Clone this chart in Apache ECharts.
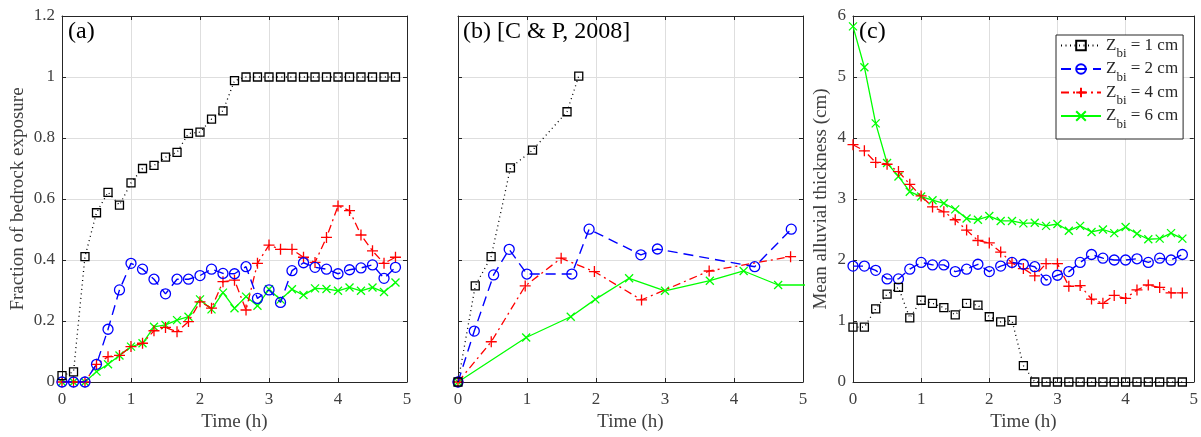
<!DOCTYPE html>
<html>
<head>
<meta charset="utf-8">
<script src="https://cdn.jsdelivr.net/npm/echarts@6/dist/echarts.min.js"></script>
<style>html,body{margin:0;padding:0;background:#fff;}#c{width:1201px;height:437px;}</style>
</head>
<body>
<div id="c"></div>
<script>
// ---- data ----
const timeA = [0,0.167,0.333,0.5,0.667,0.833,1,1.167,1.333,1.5,1.667,1.833,2,2.167,2.333,2.5,2.667,2.833,3,3.167,3.333,3.5,3.667,3.833,4,4.167,4.333,4.5,4.667,4.833];
const seriesNames = ['Zbi = 1 cm','Zbi = 2 cm','Zbi = 4 cm','Zbi = 6 cm'];
// (a) fraction of bedrock exposure
const aZ1 = [0.021,0.033,0.411,0.555,0.622,0.58,0.653,0.70,0.71,0.737,0.753,0.815,0.819,0.862,0.889,0.988,1,1,1,1,1,1,1,1,1,1,1,1,1,1];
const aZ2 = [0,0,0,0.058,0.173,0.302,0.389,0.37,0.337,0.289,0.337,0.337,0.349,0.37,0.356,0.355,0.378,0.274,0.302,0.261,0.365,0.391,0.376,0.37,0.355,0.368,0.374,0.384,0.34,0.376];
const aZ4 = [0,0,0,0.058,0.083,0.087,0.116,0.127,0.168,0.179,0.165,0.198,0.263,0.242,0.329,0.334,0.236,0.389,0.449,0.435,0.435,0.409,0.392,0.474,0.577,0.562,0.482,0.43,0.389,0.409];
const aZ6 = [0,0,0,0.034,0.058,0.087,0.116,0.127,0.181,0.187,0.203,0.214,0.271,0.238,0.293,0.242,0.28,0.25,0.304,0.27,0.304,0.285,0.307,0.305,0.299,0.31,0.299,0.31,0.295,0.326];
// (b) C & P, 2008
const bZ1t = [0,0.25,0.48,0.76,1.08,1.58,1.75];
const bZ1 = [0,0.315,0.411,0.702,0.76,0.886,1.003];
const bZ2t = [0,0.236,0.516,0.742,0.998,1.65,1.90,2.65,2.89,4.30,4.83];
const bZ2 = [0,0.167,0.351,0.435,0.354,0.354,0.501,0.417,0.436,0.378,0.501];
const bZ4t = [0,0.482,0.974,1.495,1.977,2.66,3.64,4.82];
const bZ4 = [0,0.132,0.315,0.406,0.362,0.269,0.364,0.411];
const bZ6t = [0,0.988,1.634,1.99,2.48,3.0,3.65,4.14,4.64,5.3];
const bZ6 = [0,0.146,0.214,0.271,0.34,0.299,0.332,0.364,0.318,0.318];
// (c) mean alluvial thickness (cm)
const cZ1 = [0.90,0.90,1.2,1.44,1.55,1.05,1.34,1.29,1.22,1.10,1.29,1.26,1.07,0.985,1.01,0.27,0,0,0,0,0,0,0,0,0,0,0,0,0,0];
const cZ2 = [1.90,1.90,1.83,1.69,1.69,1.85,1.96,1.92,1.92,1.81,1.85,1.93,1.81,1.90,1.96,1.93,1.89,1.67,1.75,1.81,1.96,2.09,2.03,2.0,2.0,2.02,1.96,2.03,2.0,2.09];
const cZ4 = [3.89,3.79,3.60,3.57,3.45,3.24,3.05,2.87,2.79,2.66,2.49,2.32,2.28,2.13,1.95,1.86,1.74,1.94,1.94,1.57,1.58,1.36,1.29,1.42,1.37,1.51,1.59,1.55,1.46,1.46];
const cZ6 = [5.83,5.16,4.24,3.59,3.37,3.12,3.04,2.98,2.93,2.83,2.68,2.66,2.72,2.64,2.64,2.60,2.61,2.56,2.59,2.48,2.56,2.46,2.50,2.44,2.54,2.43,2.34,2.35,2.44,2.35];
const xTicksMax = 5;

// ---- styles ----
const FONT = '"Liberation Serif", "Times New Roman", serif';
const styles = [
  {color:'#000000', symbol:'path://M0,0L10,0L10,10L0,10Z', size:8, type:[1,3.5], width:1.3},
  {color:'#0000ff', symbol:'circle', size:10, type:[10,6], width:1.4},
  {color:'#ff0000', symbol:'path://M5,0L5,10M0,5L10,5', size:11, type:[8,4,2,4], width:1.3},
  {color:'#00ff00', symbol:'path://M0,0L10,10M10,0L0,10', size:8, type:'solid', width:1.3}
];
function zip(t, v){ return t.map((x,i)=>[x, v[i]]); }
function mk(k, xi, t, v){
  const s = styles[k];
  return {
    name: seriesNames[k], type:'line', xAxisIndex:xi, yAxisIndex:xi,
    data: zip(t, v), symbol: s.symbol, symbolSize: s.size, showAllSymbol:true,
    clip:true, animation:false, z: 3 + (3-k),
    itemStyle:{color:'transparent', borderColor:s.color, borderWidth:1.3},
    lineStyle:{color:s.color, width:s.width, type:s.type},
    emphasis:{disabled:true}
  };
}
const grids = [
  {left:62, top:16, width:345, height:366},
  {left:458, top:16, width:345, height:366},
  {left:853, top:16, width:345, height:366}
];
const axisColor = '#262626';
const gridColor = '#dedede';
function xBottom(i){
  return {type:'value', gridIndex:i, min:0, max:xTicksMax, interval:1, position:'bottom',
    axisLine:{show:true, onZero:false, lineStyle:{color:axisColor, width:1}},
    axisTick:{show:true, inside:true, length:4, lineStyle:{color:axisColor}},
    axisLabel:{fontFamily:FONT, fontSize:17, color:'#404040', margin:9},
    splitLine:{show:true, lineStyle:{color:gridColor, width:1}},
    name:'Time (h)', nameLocation:'middle', nameGap:31,
    nameTextStyle:{fontFamily:FONT, fontSize:19, color:'#404040'}};
}
function xTop(i){
  return {type:'value', gridIndex:i, min:0, max:xTicksMax, interval:1, position:'top',
    axisLine:{show:true, onZero:false, lineStyle:{color:axisColor, width:1}},
    axisTick:{show:true, inside:true, length:4, lineStyle:{color:axisColor}},
    axisLabel:{show:false}, splitLine:{show:false}};
}
function yLeft(i, max, interval, showLabels, name, gap){
  return {type:'value', gridIndex:i, min:0, max:max, interval:interval, position:'left',
    axisLine:{show:true, onZero:false, lineStyle:{color:axisColor, width:1}},
    axisTick:{show:true, inside:true, length:4, lineStyle:{color:axisColor}},
    axisLabel:{show:showLabels, fontFamily:FONT, fontSize:17, color:'#404040', margin:7},
    splitLine:{show:true, lineStyle:{color:gridColor, width:1}},
    name:name, nameLocation:'middle', nameGap:gap,
    nameTextStyle:{fontFamily:FONT, fontSize:19, color:'#404040'}};
}
function yRight(i, max, interval){
  return {type:'value', gridIndex:i, min:0, max:max, interval:interval, position:'right',
    axisLine:{show:true, onZero:false, lineStyle:{color:axisColor, width:1}},
    axisTick:{show:true, inside:true, length:4, lineStyle:{color:axisColor}},
    axisLabel:{show:false}, splitLine:{show:false}};
}

const option = {
  backgroundColor:'#ffffff',
  animation:false,
  grid: grids,
  xAxis: [xBottom(0), xBottom(1), xBottom(2), xTop(0), xTop(1), xTop(2)],
  yAxis: [
    yLeft(0, 1.2, 0.2, true, 'Fraction of bedrock exposure', 34),
    yLeft(1, 1.2, 0.2, false, '', 30),
    yLeft(2, 6, 1, true, 'Mean alluvial thickness (cm)', 22),
    yRight(0, 1.2, 0.2), yRight(1, 1.2, 0.2), yRight(2, 6, 1)
  ],
  legend: {
    data: seriesNames, orient:'vertical', left:1056, top:35,
    backgroundColor:'#ffffff', borderColor:'#262626', borderWidth:1,
    padding:[2,5,8,4], itemGap:0, itemWidth:40, itemHeight:12,
    selectedMode:false,
    formatter: function(name){
      const rest = name.replace('Zbi','');
      return '{z|Z}{s|bi}{z|' + rest + '}';
    },
    textStyle:{
      fontFamily:FONT, color:'#262626',
      rich:{
        z:{fontFamily:FONT, fontSize:17, color:'#262626', lineHeight:30, verticalAlign:'middle'},
        s:{fontFamily:FONT, fontSize:13, color:'#262626', lineHeight:12, verticalAlign:'bottom'}
      }
    }
  },
  graphic: [
    {type:'text', left:68, top:20, z:10, style:{text:'(a)', font:'24px "Liberation Serif"', fill:'#000'}},
    {type:'text', left:463, top:20, z:10, style:{text:'(b) [C & P, 2008]', font:'24px "Liberation Serif"', fill:'#000'}},
    {type:'text', left:859, top:20, z:10, style:{text:'(c)', font:'24px "Liberation Serif"', fill:'#000'}}
  ],
  series: [
    mk(0,0,timeA,aZ1), mk(1,0,timeA,aZ2), mk(2,0,timeA,aZ4), mk(3,0,timeA,aZ6),
    mk(0,1,bZ1t,bZ1), mk(1,1,bZ2t,bZ2), mk(2,1,bZ4t,bZ4), mk(3,1,bZ6t,bZ6),
    mk(0,2,timeA,cZ1), mk(1,2,timeA,cZ2), mk(2,2,timeA,cZ4), mk(3,2,timeA,cZ6)
  ]
};
const chart = echarts.init(document.getElementById('c'), null, {renderer:'canvas'});
chart.setOption(option);
</script>
</body>
</html>
